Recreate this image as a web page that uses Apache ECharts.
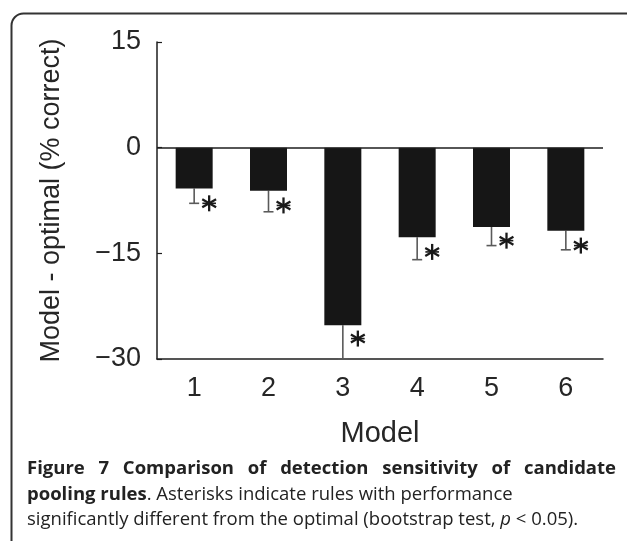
<!DOCTYPE html>
<html>
<head>
<meta charset="utf-8">
<script src="https://cdn.jsdelivr.net/npm/echarts@6/dist/echarts.min.js"></script>
<style>
html,body{margin:0;padding:0;background:#fff;}
#chart{width:627px;height:541px;}
</style>
</head>
<body>
<div id="chart"></div>
<script>
// ---- data ----
const categories = ['1', '2', '3', '4', '5', '6'];
const barValues = [-5.8, -6.1, -25.2, -12.7, -11.25, -11.8];
const errorLow = [-7.9, -9.1, -30, -15.9, -13.9, -14.5];
const starValues = [-7.9, -8.2, -27.1, -14.8, -13.2, -13.9];
const yTickValues = [-30, -15, 0, 15];
const xAxisName = 'Model';
const yAxisName = 'Model - optimal (% correct)';
const captionLine1 = 'Figure 7 Comparison of detection sensitivity of candidate';
const captionLine2Bold = 'pooling rules';
const captionLine2Rest = '. Asterisks indicate rules with performance';
const captionLine3a = 'significantly different from the optimal (bootstrap test, ';
const captionLine3p = 'p';
const captionLine3b = ' < 0.05).';

// ---- styling ----
const axisColor = '#1e1e1e';
const textColor = '#262626';
const capColor = '#222';
const chartFont = '"Liberation Sans", Arial, sans-serif';
const capFamily = '"Open Sans", "Noto Sans", sans-serif';
const capSize = 18.5;
const capLeft = 27, capRight = 616;
const capY = [469, 495, 520];

const chart = echarts.init(document.getElementById('chart'), null, {renderer: 'canvas'});

const measureCtx = document.createElement('canvas').getContext('2d');
function tw(text, font) { measureCtx.font = font; return measureCtx.measureText(text).width; }

const boldFont = 'bold ' + capSize + 'px ' + capFamily;
const regFont = capSize + 'px ' + capFamily;
const italFont = 'italic ' + capSize + 'px ' + capFamily;

const graphics = [];
// border
graphics.push({
  type: 'rect', left: 9, top: 11, z: 0,
  shape: {x: 0, y: 0, width: 660, height: 580, r: [12, 0, 0, 0]},
  style: {fill: 'none', stroke: '#333', lineWidth: 2}
});
// line 1 justified
const words = captionLine1.split(' ');
const wWidths = words.map(w => tw(w, boldFont));
const total = wWidths.reduce((a, b) => a + b, 0);
const gap = (capRight - capLeft - total) / (words.length - 1);
let cx = capLeft;
words.forEach((w, i) => {
  graphics.push({type: 'text', x: cx, y: capY[0], style: {text: w, font: boldFont, fill: capColor, verticalAlign: 'middle', align: 'left'}});
  cx += wWidths[i] + gap;
});
// line 2
graphics.push({type: 'text', x: capLeft, y: capY[1], style: {text: captionLine2Bold, font: boldFont, fill: capColor, verticalAlign: 'middle'}});
graphics.push({type: 'text', x: capLeft + tw(captionLine2Bold, boldFont), y: capY[1], style: {text: captionLine2Rest, font: regFont, fill: capColor, verticalAlign: 'middle'}});
// line 3
let x3 = capLeft;
graphics.push({type: 'text', x: x3, y: capY[2], style: {text: captionLine3a, font: regFont, fill: capColor, verticalAlign: 'middle'}});
x3 += tw(captionLine3a, regFont);
graphics.push({type: 'text', x: x3, y: capY[2], style: {text: captionLine3p, font: italFont, fill: capColor, verticalAlign: 'middle'}});
x3 += tw(captionLine3p, italFont);
graphics.push({type: 'text', x: x3, y: capY[2], style: {text: captionLine3b, font: regFont, fill: capColor, verticalAlign: 'middle'}});

const option = {
  animation: false,
  backgroundColor: '#fff',
  grid: {left: 157, right: 24, top: 42, bottom: 182},
  xAxis: {
    type: 'category',
    data: categories,
    position: 'bottom',
    name: xAxisName,
    nameLocation: 'middle',
    nameGap: 60,
    nameTextStyle: {fontFamily: chartFont, fontSize: 29, color: textColor},
    axisLine: {onZero: false, lineStyle: {color: axisColor, width: 1.5}},
    axisTick: {inside: true, alignWithLabel: true, length: 5, lineStyle: {color: axisColor, width: 1.2}},
    axisLabel: {fontFamily: chartFont, fontSize: 27, color: textColor, margin: 16},
    splitLine: {show: false}
  },
  yAxis: {
    type: 'value',
    min: yTickValues[0],
    max: yTickValues[yTickValues.length - 1],
    interval: 15,
    name: yAxisName,
    nameLocation: 'middle',
    nameGap: 92,
    nameRotate: 90,
    nameTextStyle: {fontFamily: chartFont, fontSize: 27, color: textColor},
    axisLine: {show: true, lineStyle: {color: axisColor, width: 1.5}},
    axisTick: {show: true, inside: true, length: 5, lineStyle: {color: axisColor, width: 1.2}},
    axisLabel: {
      fontFamily: chartFont, fontSize: 27, color: textColor, margin: 16,
      formatter: v => (v < 0 ? '\u2212' + Math.abs(v) : String(v))
    },
    splitLine: {show: false}
  },
  series: [
    {
      type: 'bar',
      data: barValues,
      barWidth: 37,
      itemStyle: {color: '#161616'},
      markLine: {
        silent: true,
        symbol: ['none', 'none'],
        label: {show: false},
        lineStyle: {color: axisColor, width: 1.5, type: 'solid'},
        data: [{yAxis: 0}]
      },
      z: 2
    },
    {
      type: 'custom',
      data: categories.map((c, i) => [i, barValues[i], errorLow[i]]),
      renderItem: function (params, api) {
        const top = api.coord([api.value(0), api.value(1)]);
        const lo = api.coord([api.value(0), api.value(2)]);
        const style = {stroke: '#5a5a5a', lineWidth: 1.6};
        return {
          type: 'group',
          children: [
            {type: 'line', shape: {x1: top[0], y1: top[1], x2: lo[0], y2: lo[1]}, style: style},
            {type: 'line', shape: {x1: lo[0] - 5, y1: lo[1], x2: lo[0] + 5, y2: lo[1]}, style: style}
          ]
        };
      },
      z: 1
    },
    {
      type: 'custom',
      data: categories.map((c, i) => [i, starValues[i]]),
      renderItem: function (params, api) {
        const p = api.coord([api.value(0), api.value(1)]);
        const cxp = p[0] + 15, cyp = p[1];
        const r = 8;
        const children = [];
        [90, 30, 150].forEach(a => {
          const rad = a * Math.PI / 180;
          const dx = Math.cos(rad) * r, dy = Math.sin(rad) * r;
          children.push({type: 'line', shape: {x1: cxp - dx, y1: cyp - dy, x2: cxp + dx, y2: cyp + dy}, style: {stroke: '#1a1a1a', lineWidth: 2.3}});
        });
        children.push({type: 'line', shape: {x1: cxp - r * 0.85, y1: cyp, x2: cxp + r * 0.85, y2: cyp}, style: {stroke: '#1a1a1a', lineWidth: 1.6}});
        return {type: 'group', children: children};
      },
      z: 3
    }
  ],
  graphic: graphics
};
chart.setOption(option);
</script>
</body>
</html>
